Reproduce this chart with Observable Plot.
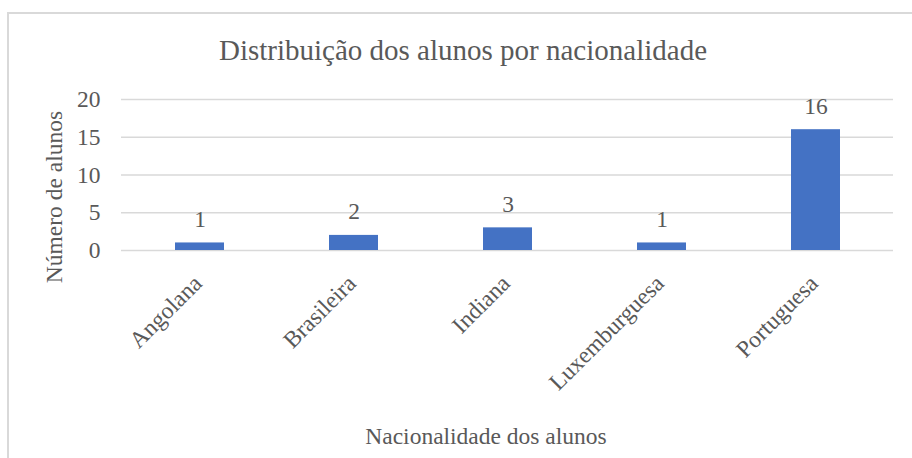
<!DOCTYPE html>
<html><head><meta charset="utf-8">
<script src="https://cdn.jsdelivr.net/npm/d3@7"></script>
<script src="https://cdn.jsdelivr.net/npm/@observablehq/plot@0.6"></script>
<style>
body{margin:0;background:#fff;}
#wrap{position:relative;width:912px;height:458px;overflow:hidden;font-family:"Liberation Serif","Times New Roman",Tinos,"DejaVu Serif",serif;color:#595959;background:#fff;}
#frame{position:absolute;left:7px;top:12px;width:1000px;height:1000px;border:2px solid #d9d9d9;box-sizing:border-box;}
#title{position:absolute;left:0;width:926px;top:36px;text-align:center;font-size:29px;line-height:29px;white-space:nowrap;}
#chart{position:absolute;left:0;top:70px;}
</style></head><body>
<div id="wrap"><div id="frame"></div><div id="title">Distribuição dos alunos por nacionalidade</div><div id="chart"></div></div>
<script>
const categories = ["Angolana", "Brasileira", "Indiana", "Luxemburguesa", "Portuguesa"];
const values = [1, 2, 3, 1, 16];
const yTicks = [0, 5, 10, 15, 20];
const yTitle = "Número de alunos";
const xTitle = "Nacionalidade dos alunos";

const data = categories.map((c, i) => ({nacionalidade: c, alunos: values[i]}));
const FONT = '"Liberation Serif","Times New Roman",Tinos,"DejaVu Serif",serif';
const FS = 23.5;

const chart = Plot.plot({
  width: 912,
  height: 388,
  marginTop: 29,
  marginBottom: 208,
  marginLeft: 121,
  marginRight: 19,
  style: {fontFamily: FONT, fontSize: FS + "px", color: "#595959", background: "transparent", overflow: "visible"},
  x: {domain: categories, paddingInner: 0.685, paddingOuter: 0.3425},
  y: {domain: [0, 20]},
  marks: [
    Plot.ruleY(yTicks, {stroke: "#d9d9d9", strokeWidth: 1.5}),
    Plot.barY(data, {x: "nacionalidade", y: "alunos", fill: "#4472C4"}),
    Plot.text(data, {x: "nacionalidade", y: "alunos", text: d => String(d.alunos), lineAnchor: "bottom", dy: -16, fill: "#595959", fontSize: FS, fontFamily: FONT}),
    Plot.axisY({ticks: yTicks, tickSize: 0, tickPadding: 21, label: null, fill: "#595959", fontSize: FS, fontFamily: FONT}),
    Plot.axisX({tickSize: 0, tickRotate: -45, tickPadding: 23, dx: -2, dy: 6, label: null, fill: "#595959", fontSize: FS, fontFamily: FONT}),
    Plot.text([yTitle], {text: d => d, frameAnchor: "left", textAnchor: "middle", lineAnchor: "middle", rotate: -90, dx: -67, dy: 22, fill: "#595959", fontSize: FS, fontFamily: FONT}),
    Plot.text([xTitle], {text: d => d, frameAnchor: "bottom", textAnchor: "middle", lineAnchor: "bottom", dx: -21.5, dy: 193, fill: "#595959", fontSize: FS, fontFamily: FONT})
  ]
});
document.getElementById("chart").appendChild(chart);
</script>
</body></html>
